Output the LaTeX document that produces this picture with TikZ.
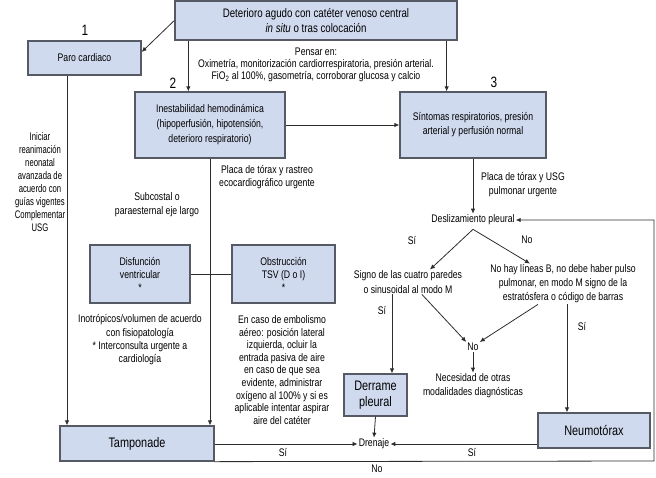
\documentclass[tikz,border=0pt]{standalone}
\usepackage{fontspec}
\setmainfont{Liberation Sans}[FakeStretch=0.79]
\newfontfamily\estrecha{Liberation Sans}[FakeStretch=0.70]
\usetikzlibrary{arrows.meta}

\definecolor{cajaazul}{RGB}{208,218,238}
\definecolor{bordecaja}{RGB}{85,90,100}
\definecolor{trazo}{RGB}{45,45,45}

\tikzset{
	caja/.style={draw=bordecaja, fill=cajaazul, line width=1.3pt, align=center, inner sep=2pt},
	grande/.style={font=\fontsize{13.8}{15.5}\selectfont},
	texto/.style={align=center, inner sep=1pt},
	flecha/.style={draw=trazo, line width=0.8pt, -{Latex[length=5pt,width=4.5pt]}},
	enlace/.style={draw=trazo, line width=0.8pt},
}

\begin{document}
\begin{tikzpicture}[x=1pt, y=-1pt, font=\fontsize{11}{13}\selectfont]
	\useasboundingbox (0,0) rectangle (656,477);

	% boxes
	\node[caja, minimum width=282pt, minimum height=39pt, font=\fontsize{12.3}{15}\selectfont] (deterioro) at (316,20.5)
		{Deterioro agudo con catéter venoso central\\\textit{in situ} o tras colocación};
	\node[caja, minimum width=113pt, minimum height=34pt] (paro) at (84.5,58) {Paro cardiaco};
	\node[caja, minimum width=150pt, minimum height=66pt, font=\fontsize{11}{15}\selectfont] (inestab) at (210,125)
		{Inestabilidad hemodinámica\\(hipoperfusión, hipotensión,\\deterioro respiratorio)};
	\node[caja, minimum width=146pt, minimum height=66pt, font=\fontsize{11}{14}\selectfont] (sintomas) at (473,125)
		{Síntomas respiratorios, presión\\arterial y perfusión normal};
	\node[caja, minimum width=100pt, minimum height=58pt] (disfuncion) at (140,274) {Disfunción\\ventricular\\*};
	\node[caja, minimum width=103pt, minimum height=58pt] (obstruccion) at (283.5,274) {Obstrucción\\TSV (D o I)\\*};
	\node[caja, grande, minimum width=63pt, minimum height=42pt] (derrame) at (375.5,395) {Derrame\\pleural};
	\node[caja, grande, minimum width=112pt, minimum height=35pt] (neumo) at (594,430.5) {Neumotórax};
	\node[caja, grande, minimum width=154pt, minimum height=35pt] (tamponade) at (137,443.5) {Tamponade};

	% numbers
	\foreach \n/\x/\y in {1/85/30, 2/173/83, 3/494/82}
		\node[font=\fontsize{15}{15}\selectfont] (num\n) at (\x,\y) {\n};

	% notes
	\node[texto, font=\fontsize{11}{12}\selectfont] (pensar) at (316,65)
		{Pensar en:\\Oximetría, monitorización cardiorrespiratoria, presión arterial.\\FiO\textsubscript{2} al 100\%, gasometría, corroborar glucosa y calcio};
	\node[texto, font=\estrecha\fontsize{11}{12.9}\selectfont] (iniciar) at (40,182)
		{Iniciar\\reanimación\\neonatal\\avanzada de\\acuerdo con\\guías vigentes\\Complementar\\USG};
	\node[texto] (placauno) at (267,177.5) {Placa de tórax y rastreo\\ecocardiográfico urgente};
	\node[texto, font=\fontsize{11}{13.5}\selectfont] (subcostal) at (157,204.5) {Subcostal o\\paraesternal eje largo};
	\node[texto, font=\fontsize{11}{13.3}\selectfont] (inotropicos) at (140,340)
		{Inotrópicos/volumen de acuerdo\\con fisiopatología\\* Interconsulta urgente a\\cardiología};
	\node[texto, font=\fontsize{11}{12.6}\selectfont] (embolismo) at (282,370)
		{En caso de embolismo\\aéreo: posición lateral\\izquierda, ocluir la\\entrada pasiva de aire\\en caso de que sea\\evidente, administrar\\oxígeno al 100\% y si es\\aplicable intentar aspirar\\aire del catéter};
	\node[texto, font=\fontsize{11}{14}\selectfont] (placados) at (523,185) {Placa de tórax y USG\\pulmonar urgente};
	\node[texto] (desliz) at (473,220) {Deslizamiento pleural};
	\node[texto, font=\fontsize{11}{14.5}\selectfont] (signo) at (408,282) {Signo de las cuatro paredes\\o sinusoidal al modo M};
	\node[texto, font=\fontsize{11}{14}\selectfont] (nohay) at (563,284)
		{No hay líneas B, no debe haber pulso\\pulmonar, en modo M signo de la\\estratósfera o código de barras};
	\node[texto] (no) at (473,347) {No};
	\node[texto, font=\fontsize{11}{14}\selectfont] (necesidad) at (473,386) {Necesidad de otras\\modalidades diagnósticas};
	\node[texto] (drenaje) at (374,444) {Drenaje};

	% si / no labels
	\foreach \nombre/\x/\y/\t in {siA/412/240/Sí, noA/527/240/No, siB/382/310/Sí, siC/582/326/Sí,
			siD/283/452/Sí, siE/472/452/Sí, noB/377/469/No}
		\node[texto] (\nombre) at (\x,\y) {\t};

	% connectors
	\draw[flecha] (deterioro.west) -- ([yshift=6pt]paro.east);
	\draw[flecha] ([xshift=14pt]deterioro.south west) -- ([xshift=14pt]deterioro.south west |- inestab.north);
	\draw[flecha] ([xshift=-11pt]deterioro.south east) -- ([xshift=-11pt]deterioro.south east |- sintomas.north);
	\draw[flecha] (inestab.east) -- (sintomas.west);
	\draw[flecha] ([xshift=-17.5pt]paro.south) -- ([xshift=-17.5pt]paro.south |- tamponade.north);
	\draw[flecha] (inestab.south) -- (inestab.south |- tamponade.north);
	\draw[enlace] (disfuncion.east) -- (obstruccion.west);
	\draw[flecha] (sintomas.south) -- (desliz.north);
	\draw[flecha] ([yshift=-3pt]desliz.south) -- ([xshift=22pt]signo.north);
	\draw[flecha] ([yshift=-3pt]desliz.south) -- ([xshift=-33pt]nohay.north);
	\draw[flecha] ([xshift=-16pt]signo.south) -- ([xshift=-16pt]signo.south |- derrame.north);
	\draw[flecha] ([xshift=14pt]signo.south) -- (no.north west);
	\draw[flecha] ([xshift=-25pt]nohay.south) -- (no.north east);
	\draw[flecha] (no.south) -- (necesidad.north);
	\draw[flecha] ([xshift=4pt]nohay.south) -- ([xshift=4pt]nohay.south |- neumo.north);
	\draw[flecha] (derrame.south) -- (drenaje.north);
	\draw[flecha] (tamponade.east |- drenaje.west) -- (drenaje.west);
	\draw[flecha] (neumo.west |- drenaje.east) -- (drenaje.east);
	\coordinate (retorno) at (654,461);
	\draw[flecha] (tamponade.south east) -- (retorno) |- (desliz.east);
\end{tikzpicture}
\end{document}
